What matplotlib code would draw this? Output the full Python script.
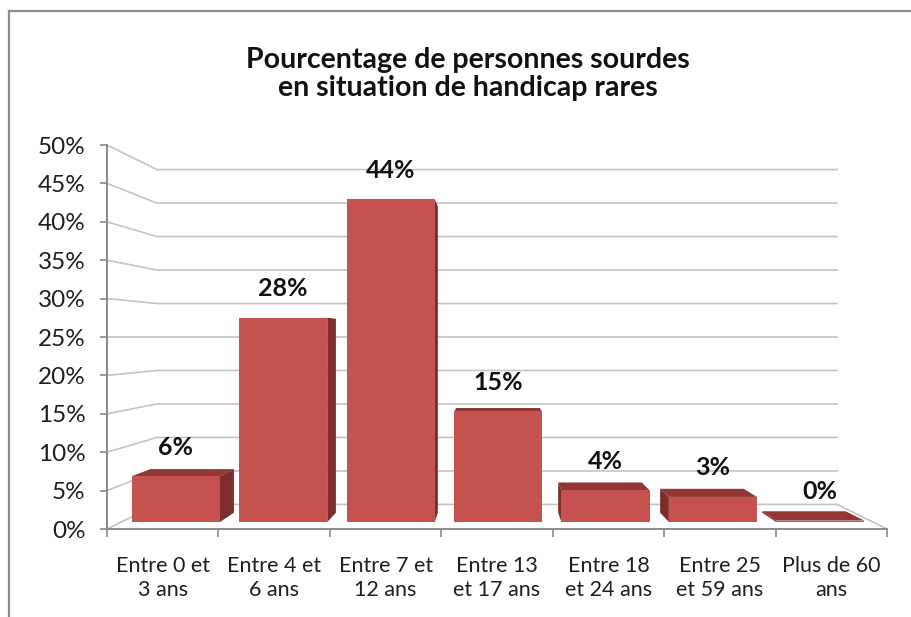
import matplotlib.pyplot as plt
from matplotlib.patches import Polygon
from matplotlib.transforms import Affine2D
from matplotlib.lines import Line2D
import numpy as np

plt.rcParams['font.family'] = ['Lato', 'DejaVu Sans']

title = "Pourcentage de personnes sourdes\nen situation de handicap rares"
categories = ["Entre 0 et\n3 ans", "Entre 4 et\n6 ans", "Entre 7 et\n12 ans",
              "Entre 13\net 17 ans", "Entre 18\net 24 ans", "Entre 25\net 59 ans",
              "Plus de 60\nans"]
values = [6.2, 27.6, 43.6, 14.9, 4.3, 3.4, 0.2]
y_ticks = [0, 5, 10, 15, 20, 25, 30, 35, 40, 45, 50]

# fake 3D: everything shrinks toward a vanishing point as it goes back
VX, VY = 3.5, 25.0
S_WALL = 0.872
S_FRONT = 0.964
S_BACK = 0.915
BAR_OFF, BAR_W = 0.1, 0.82

front_col = "#c5524f"
side_col = "#7d2e2c"
top_col = "#913735"
grid_col = "#c4c4c4"
axis_col = "#8a8a8a"
text_col = "#1f1f1f"


def proj(x, y, s):
    return (VX + (x - VX) * s, VY + (y - VY) * s)


fig = plt.figure(figsize=(9.12, 6.17), dpi=100)
ax = fig.add_axes([107 / 912, 88 / 617, 780 / 912, 384 / 617])
ax.set_xlim(0, len(categories))
ax.set_ylim(0, 50)
ax.patch.set_alpha(0)

# frame of the chart area
fig.add_artist(Line2D([9.5 / 912, 9.5 / 912], [0, 1 - 11 / 617], transform=fig.transFigure,
                      color="#8c8c8c", lw=1.6))
fig.add_artist(Line2D([9 / 912, 1], [1 - 11 / 617, 1 - 11 / 617], transform=fig.transFigure,
                      color="#8c8c8c", lw=1.6))

n = len(categories)
# back wall and left wall gridlines
for y in y_ticks:
    p0 = proj(0, y, 1)
    p1 = proj(0, y, S_WALL)
    p2 = proj(n, y, S_WALL)
    ax.plot([p0[0], p1[0], p2[0]], [p0[1], p1[1], p2[1]], color=grid_col, lw=1.2,
            zorder=1, clip_on=False, solid_joinstyle="miter")

# floor right edge
p0 = proj(n, 0, 1)
p1 = proj(n, 0, S_WALL)
ax.plot([p0[0], p1[0]], [p0[1], p1[1]], color=grid_col, lw=1.2, zorder=1, clip_on=False)

# bars
front_tr = Affine2D().translate(-VX, -VY).scale(S_FRONT).translate(VX, VY) + ax.transData
lefts = np.arange(n) + BAR_OFF
ax.bar(lefts, values, width=BAR_W, align="edge", color=front_col, transform=front_tr,
       zorder=4, clip_on=False, linewidth=0)

for xl, v in zip(lefts, values):
    xr = xl + BAR_W
    if xr < VX:
        side = [proj(xr, 0, S_FRONT), proj(xr, v, S_FRONT), proj(xr, v, S_BACK), proj(xr, 0, S_BACK)]
        ax.add_patch(Polygon(side, closed=True, facecolor=side_col, lw=0, zorder=3, clip_on=False))
    elif xl > VX:
        side = [proj(xl, 0, S_FRONT), proj(xl, v, S_FRONT), proj(xl, v, S_BACK), proj(xl, 0, S_BACK)]
        ax.add_patch(Polygon(side, closed=True, facecolor=side_col, lw=0, zorder=3, clip_on=False))
    if v < VY:
        top = [proj(xl, v, S_FRONT), proj(xr, v, S_FRONT), proj(xr, v, S_BACK), proj(xl, v, S_BACK)]
        ax.add_patch(Polygon(top, closed=True, facecolor=top_col, lw=0, zorder=3, clip_on=False))
    lx, ly = proj(xl + BAR_W / 2, v, S_FRONT)
    ax.annotate(f"{v:.0f}%", (lx, ly), xytext=(0, 29), textcoords="offset pixels",
                ha="center", va="center", fontsize=18, fontweight="bold", color="#111111",
                zorder=6, annotation_clip=False)

# axes
for side in ["top", "right"]:
    ax.spines[side].set_visible(False)
for side in ["left", "bottom"]:
    ax.spines[side].set_color(axis_col)
    ax.spines[side].set_linewidth(1.4)
    ax.spines[side].set_zorder(2)

ax.set_yticks(y_ticks)
ax.set_yticklabels([f"{t}%" for t in y_ticks])
ax.tick_params(axis="y", length=5, width=1.2, color=axis_col, labelsize=17.5,
               labelcolor=text_col, pad=10.5)

ax.set_xticks(np.arange(n + 1))
ax.set_xticklabels([])
ax.set_xticks(np.arange(n) + 0.5, minor=True)
ax.set_xticklabels(categories, minor=True, fontsize=15.5, color=text_col, linespacing=1.27)
ax.tick_params(axis="x", which="minor", length=0, pad=19.5)
ax.tick_params(axis="x", which="major", length=6, width=1.2, color=axis_col)

fig.text(468 / 912, 1 - 74 / 617, title, ha="center", va="center", fontsize=20.5,
         fontweight="bold", color="#111111", linespacing=1.1)

fig.savefig("out.png", dpi=100)
